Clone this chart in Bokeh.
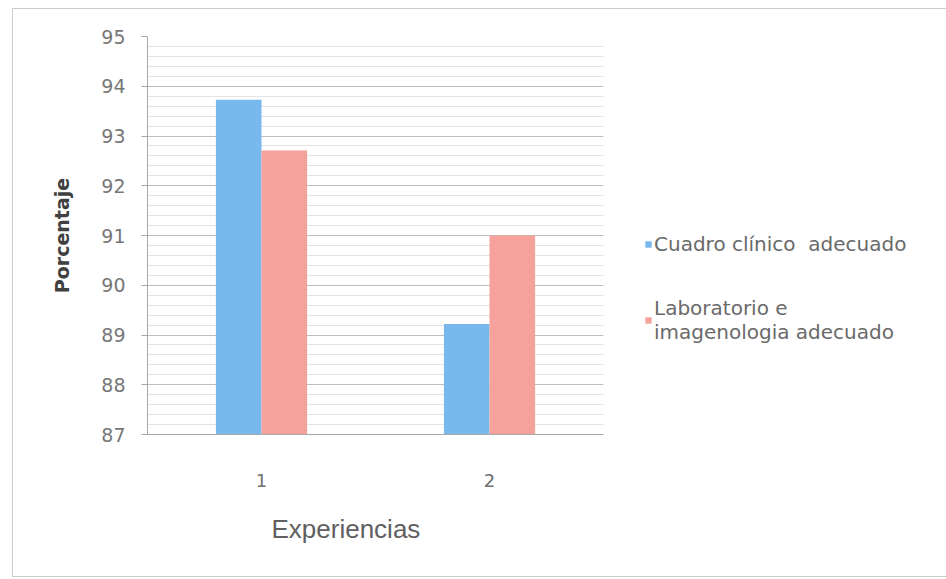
from bokeh.plotting import figure
from bokeh.models import (ColumnDataSource, FactorRange, Range1d, Legend, LegendItem,
                          Title, SingleIntervalTicker)
from bokeh.transform import dodge
from bokeh.embed import file_html
from bokeh.resources import INLINE

categories = ["1", "2"]
cuadro_clinico = [93.73, 89.22]
laboratorio = [92.71, 91.0]
series_names = ["Cuadro clínico  adecuado", "Laboratorio e\nimagenologia adecuado"]
colors = ["#79b8ec", "#f5a29c"]

src = ColumnDataSource(dict(cat=categories, a=cuadro_clinico, b=laboratorio))

p = figure(frame_width=456, frame_height=398, x_range=FactorRange(*categories, range_padding=0),
           y_range=Range1d(87, 95), output_backend="svg", toolbar_location=None,
           min_border_left=134, min_border_right=340, min_border_top=27,
           min_border_bottom=142)
p.outline_line_color = None
p.background_fill_color = "white"
p.border_fill_color = "white"
p.styles = {"border": "1px solid #cccccc", "margin-left": "12px", "margin-top": "8px"}

r1 = p.vbar(x=dodge("cat", -0.1, range=p.x_range), top="a", bottom=87, width=0.2,
            source=src, fill_color=colors[0], line_color=None)
r2 = p.vbar(x=dodge("cat", 0.1, range=p.x_range), top="b", bottom=87, width=0.2,
            source=src, fill_color=colors[1], line_color=None)

# y axis
p.yaxis.ticker = SingleIntervalTicker(interval=1, num_minor_ticks=5)
p.yaxis.major_label_text_font = "DejaVu Sans"
p.yaxis.major_label_text_font_size = "19px"
p.yaxis.major_label_text_color = "#777777"
p.yaxis.axis_line_color = "#a8a8a8"
p.yaxis.major_tick_line_color = "#a8a8a8"
p.yaxis.major_tick_out = 6
p.yaxis.major_tick_in = 0
p.yaxis.minor_tick_line_color = None
p.yaxis.major_label_standoff = 16
p.yaxis.axis_label = "Porcentaje"
p.yaxis.axis_label_text_font = "DejaVu Sans"
p.yaxis.axis_label_text_font_style = "bold"
p.yaxis.axis_label_text_font_size = "19px"
p.yaxis.axis_label_text_color = "#404040"
p.yaxis.axis_label_standoff = 25

# x axis
p.xaxis.major_label_text_font = "DejaVu Sans"
p.xaxis.major_label_text_font_size = "18px"
p.xaxis.major_label_text_color = "#707070"
p.xaxis.axis_line_color = "#a8a8a8"
p.xaxis.major_tick_line_color = None
p.xaxis.major_label_standoff = 33

p.xgrid.grid_line_color = None
p.ygrid.grid_line_color = "#bdbdbd"
p.ygrid.minor_grid_line_color = "#e4e4e4"

# x axis title, placed left of centre as in the original
p.add_layout(Title(text="Experiencias", align="left", offset=124, standoff=44,
                   text_font="Liberation Sans", text_font_size="26px",
                   text_font_style="normal", text_color="#606060"), "below")

legend = Legend(items=[LegendItem(label=series_names[0], renderers=[r1]),
                       LegendItem(label=series_names[1], renderers=[r2])],
                location=(41, 90), orientation="vertical",
                label_text_font="DejaVu Sans", label_text_font_size="20px",
                label_text_line_height=1.1,
                label_text_color="#6a6a6a", glyph_width=8, glyph_height=8,
                label_standoff=2, spacing=40, padding=0, margin=0,
                border_line_color=None, background_fill_alpha=0)
p.add_layout(legend, "right")

open("out.html", "w").write(file_html(p, INLINE))
